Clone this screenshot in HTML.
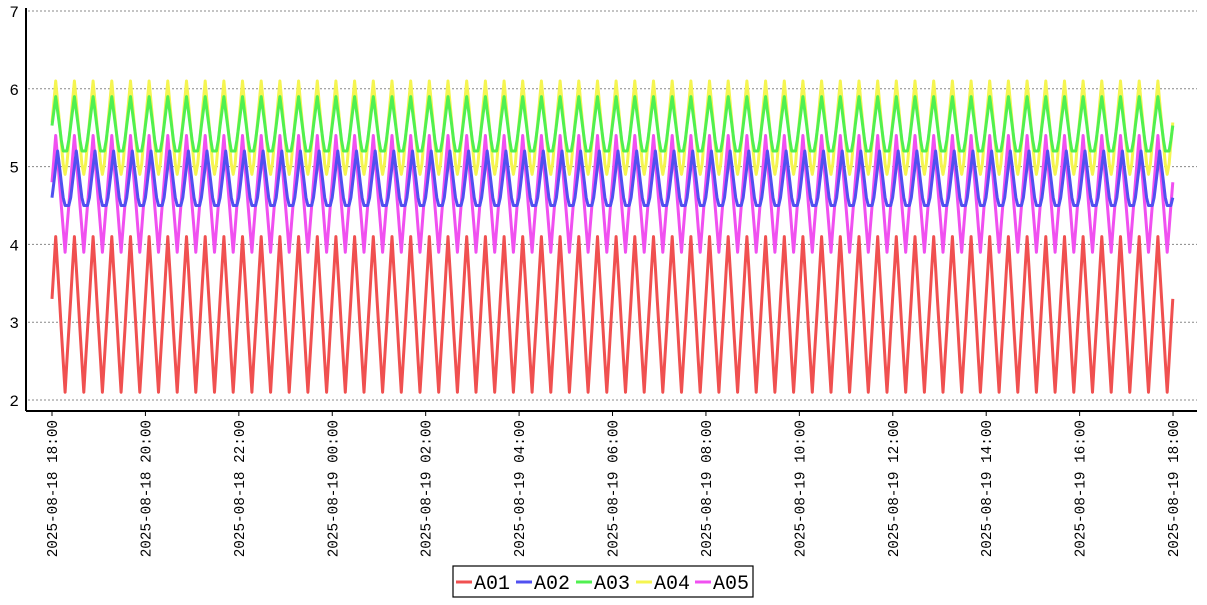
<!DOCTYPE html>
<html><head><meta charset="utf-8"><style>
body{margin:0;background:#fff;}
svg text{font-family:"Liberation Mono","DejaVu Sans Mono",monospace;}
</style></head><body>
<svg id="s" width="1207" height="600" xmlns="http://www.w3.org/2000/svg">
<g id="grid"></g>
<g id="lines" fill="none" stroke-width="3" stroke-linejoin="round"></g>
<line x1="26" y1="8" x2="26" y2="411" stroke="#000" stroke-width="2"/>
<line x1="26" y1="411" x2="1197" y2="411" stroke="#000" stroke-width="2"/>
<g id="ticks"></g>
<rect x="453" y="566" width="300" height="31" fill="#fff" stroke="#000" stroke-width="1.2"/>
<g font-size="20">
<line x1="456" y1="582" x2="472" y2="582" stroke="#f05050" stroke-width="3"/><text x="474" y="589">A01</text>
<line x1="516" y1="582" x2="532" y2="582" stroke="#5050f0" stroke-width="3"/><text x="534" y="589">A02</text>
<line x1="576" y1="582" x2="592" y2="582" stroke="#50f050" stroke-width="3"/><text x="594" y="589">A03</text>
<line x1="636" y1="582" x2="652" y2="582" stroke="#f5f550" stroke-width="3"/><text x="654" y="589">A04</text>
<line x1="695" y1="582" x2="711" y2="582" stroke="#f050f0" stroke-width="3"/><text x="713" y="589">A05</text>
</g>
</svg>
<script>
var NS="http://www.w3.org/2000/svg";
function el(p,t,a,txt){var e=document.createElementNS(NS,t);for(var k in a)e.setAttribute(k,a[k]);if(txt)e.textContent=txt;document.getElementById(p).appendChild(e);}
function Y(v){return 11+(7-v)*77.8;}
for(var v=2;v<=7;v++){el("grid","line",{x1:28,x2:1197,y1:Y(v),y2:Y(v),stroke:"#888","stroke-dasharray":"2,2","stroke-width":1});
el("grid","text",{x:19,y:Y(v)+6,"font-size":16,"text-anchor":"end"},String(v));}
var labs=["2025-08-18 18:00","2025-08-18 20:00","2025-08-18 22:00","2025-08-19 00:00","2025-08-19 02:00","2025-08-19 04:00","2025-08-19 06:00","2025-08-19 08:00","2025-08-19 10:00","2025-08-19 12:00","2025-08-19 14:00","2025-08-19 16:00","2025-08-19 18:00"];
for(var i=0;i<13;i++){var x=52+93.42*i;el("ticks","line",{x1:x,x2:x,y1:411,y2:416,stroke:"#000"});
el("ticks","text",{x:0,y:0,"font-size":14.3,"text-anchor":"end",transform:"translate("+(x+5)+",420) rotate(-90)"},labs[i]);}
var P=18.68,x0=52,x1=1173;
function tri(k,ph){var t=(k/10+ph)%1;if(t<0)t+=1;return t<0.5?1-2*t:2*t-1;}
var S=[
 {c:"#f5f550",lo:4.9,hi:6.1,ph:-0.2,fl:0.1},
 {c:"#f050f0",lo:3.9,hi:5.4,ph:-0.2,fl:0},
 {c:"#f05050",lo:2.1,hi:4.1,ph:-0.2,fl:0},
 {c:"#5050f0",lo:4.5,hi:5.2,ph:-0.3,fl:0.3},
 {c:"#50f050",lo:5.2,hi:5.9,ph:-0.2,fl:0.25}];
S.forEach(function(s){var d="";var N=Math.floor((x1-x0)/(P/10));for(var k=0;k<=N;k++){var x=x0+k*P/10;var f=tri(k,s.ph);f=Math.max(0,(f-s.fl)/(1-s.fl));var v=s.lo+(s.hi-s.lo)*f;d+=(d?"L":"M")+x.toFixed(1)+","+Y(v).toFixed(1);}
el("lines","path",{d:d,stroke:s.c});});
</script>
</body></html>
